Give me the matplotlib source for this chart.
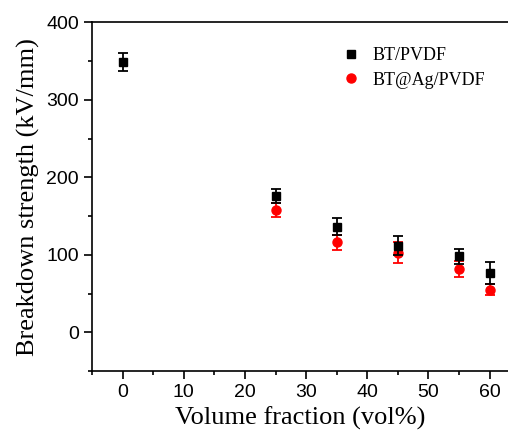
import matplotlib
matplotlib.use("Agg")
import matplotlib.pyplot as plt
from matplotlib.ticker import MultipleLocator

# BT/PVDF
x_bt = [0, 25, 35, 45, 55, 60]
y_bt = [349, 176, 136, 112, 98, 77]
e_bt = [12, 9, 11, 12, 10, 14]

# BT@Ag/PVDF
x_ag = [25, 35, 45, 55, 60]
y_ag = [158, 116, 103, 82, 55]
e_ag = [9, 10, 13, 10, 7]

fig = plt.figure(figsize=(5.08, 4.30), dpi=100)
ax = fig.add_axes([0.181, 0.137, 0.819, 0.811])

ax.errorbar(x_bt, y_bt, yerr=e_bt, fmt='s', color='black', ms=6,
            capsize=3.5, elinewidth=1.3, capthick=1.3, label='BT/PVDF', zorder=3)
ax.errorbar(x_ag, y_ag, yerr=e_ag, fmt='o', color='red', ms=6.5,
            capsize=3.5, elinewidth=1.3, capthick=1.3, label='BT@Ag/PVDF', zorder=2)

ax.set_xlim(-5, 63)
ax.set_ylim(-50, 400)
ax.xaxis.set_major_locator(MultipleLocator(10))
ax.xaxis.set_minor_locator(MultipleLocator(5))
ax.yaxis.set_major_locator(MultipleLocator(100))
ax.yaxis.set_minor_locator(MultipleLocator(50))
ax.tick_params(which='major', direction='out', length=6, width=1.2, labelsize=14)
ax.tick_params(which='minor', direction='out', length=3, width=1.2)
for lbl in ax.get_xticklabels() + ax.get_yticklabels():
    lbl.set_family('Liberation Sans')
for s in ax.spines.values():
    s.set_linewidth(1.2)
ax.spines['right'].set_visible(False)

ax.set_xlabel('Volume fraction (vol%)', family='Liberation Serif', fontsize=19, labelpad=4)
ax.set_ylabel('Breakdown strength (kV/mm)', family='Liberation Serif', fontsize=19, labelpad=4)

handles, labels = ax.get_legend_handles_labels()
handles = [h[0] for h in handles]
ax.legend(handles, labels, loc='upper right', bbox_to_anchor=(0.966, 0.954), frameon=False,
          borderpad=0, prop={'family': 'Liberation Serif', 'size': 13}, handletextpad=0.6,
          handlelength=1.2, labelspacing=0.4)

fig.savefig('out.png', dpi=100)
